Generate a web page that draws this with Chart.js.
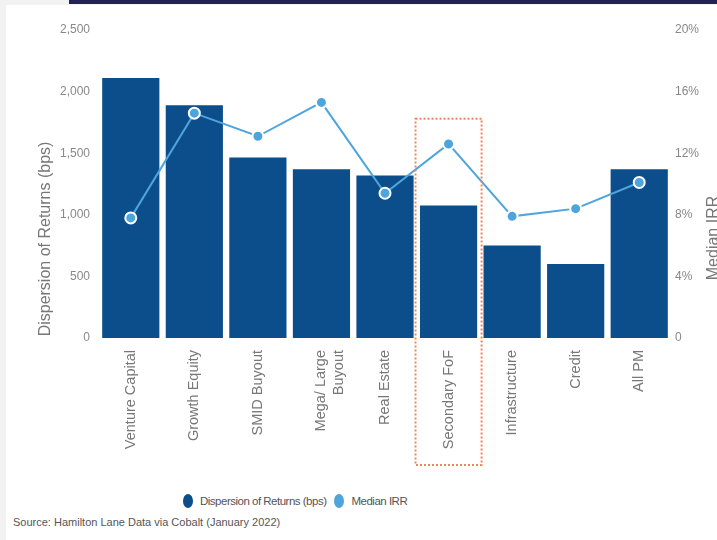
<!DOCTYPE html>
<html>
<head>
<meta charset="utf-8">
<script src="https://cdn.jsdelivr.net/npm/chart.js@4"></script>
<style>
  body { margin: 0; background: #f2f2f2; width: 717px; height: 540px; overflow: hidden; position: relative; }
  #panel { position: absolute; left: 6px; top: 5px; right: 0; bottom: 0; background: #fff; }
  #topbar { position: absolute; left: 69px; top: 0; width: 648px; height: 4px; background: #232257; }
  #subChartCanvas { position: absolute; left: 0; top: 0; }
  #legend { position: absolute; left: 183px; top: 494px; font-family: "Liberation Sans Narrow", "Liberation Sans", sans-serif; font-size: 11.5px; letter-spacing: -0.5px; color: #555; display: flex; align-items: center; }
  #legend .dot { display: inline-block; width: 10px; height: 14px; border-radius: 50%; margin-right: 7px; }
  #legend .item { display: flex; align-items: center; margin-right: 8px; }
  #source { position: absolute; left: 13px; top: 516px; font-family: "Liberation Sans Narrow", "Liberation Sans", sans-serif; font-size: 11px; color: #555; }
</style>
</head>
<body>
<div id="panel"></div>
<div id="topbar"></div>
<canvas id="subChartCanvas" width="717" height="475"></canvas>
<div id="legend">
  <div class="item"><span class="dot" style="background:#0b4e8b"></span>Dispersion of Returns (bps)</div>
  <div class="item"><span class="dot" style="background:#4ea5dc"></span>Median IRR</div>
</div>
<div id="source">Source: Hamilton Lane Data via Cobalt (January 2022)</div>
<script>
const categories = ['Venture Capital', 'Growth Equity', 'SMID Buyout', ['Mega/ Large', 'Buyout'], 'Real Estate', 'Secondary FoF', 'Infrastructure', 'Credit', 'All PM'];
const dispersionBps = [2110, 1890, 1465, 1370, 1320, 1075, 750, 600, 1370];
const medianIrr = [7.8, 14.6, 13.1, 15.3, 9.4, 12.6, 7.9, 8.4, 10.1];
const highlightIndex = 5;

const barColor = '#0b4e8b';
const lineColor = '#4ea5dc';
const tickFont = { family: 'Liberation Sans', size: 12 };

// draws the axis titles and the dotted box round Secondary FoF
const extras = {
    id: 'extras',
    afterDraw(chart) {
        const ctx = chart.ctx;
        const x = chart.scales.x;
        const y = chart.scales.y;
        const area = chart.chartArea;

        ctx.save();
        ctx.fillStyle = '#777';
        ctx.font = '16px "Liberation Sans"';
        ctx.textAlign = 'center';
        ctx.textBaseline = 'middle';
        ctx.translate(46, 239);
        ctx.rotate(-Math.PI / 2);
        ctx.fillText('Dispersion of Returns (bps)', 0, 0);
        ctx.restore();

        ctx.save();
        ctx.fillStyle = '#777';
        ctx.font = '16px "Liberation Sans"';
        ctx.textAlign = 'center';
        ctx.textBaseline = 'middle';
        ctx.translate(714, 238);
        ctx.rotate(-Math.PI / 2);
        ctx.fillText('Median IRR', 0, 0);
        ctx.restore();

        const cx = x.getPixelForValue(highlightIndex);
        const half = (x.getPixelForValue(1) - x.getPixelForValue(0)) * 0.52;
        const top = y.getPixelForValue(1780);
        const bottom = area.bottom + 127;
        ctx.save();
        ctx.strokeStyle = '#f0845c';
        ctx.lineWidth = 2;
        ctx.setLineDash([2, 2]);
        ctx.strokeRect(cx - half, top, half * 2, bottom - top);
        ctx.restore();
    }
};

var ctx_live = document.getElementById('subChartCanvas').getContext('2d');
var subChartVar = new Chart(ctx_live, {
    type: 'bar',
    data: {
        labels: categories,
        datasets: [{
            type: 'line',
            label: 'Median IRR',
            data: medianIrr,
            yAxisID: 'y1',
            borderColor: lineColor,
            borderWidth: 2,
            pointRadius: 5.5,
            pointBackgroundColor: lineColor,
            pointBorderColor: '#fff',
            pointBorderWidth: 2,
            order: 0
        }, {
            type: 'bar',
            label: 'Dispersion of Returns (bps)',
            data: dispersionBps,
            yAxisID: 'y',
            backgroundColor: barColor,
            barPercentage: 0.9,
            categoryPercentage: 1,
            order: 1
        }]
    },
    options: {
        responsive: false,
        animation: false,
        devicePixelRatio: 1,
        layout: { padding: { top: 30, left: 0, right: 0, bottom: 0 } },
        plugins: { legend: { display: false }, tooltip: { enabled: false } },
        scales: {
            x: {
                grid: { display: false, drawTicks: false },
                border: { display: false },
                ticks: {
                    color: '#777',
                    font: { family: 'Liberation Sans', size: 14.5 },
                    minRotation: 90,
                    maxRotation: 90,
                    padding: 12,
                    autoSkip: false
                },
                afterFit: s => { s.height = 137; }
            },
            y: {
                position: 'left',
                min: 0,
                max: 2500,
                grid: { display: false, drawTicks: false },
                border: { display: false },
                ticks: {
                    stepSize: 500,
                    color: '#888',
                    font: tickFont,
                    padding: 9,
                    callback: v => v.toLocaleString('en-US')
                },
                afterFit: s => { s.width = 99; }
            },
            y1: {
                position: 'right',
                min: 0,
                max: 20,
                grid: { display: false, drawTicks: false },
                border: { display: false },
                ticks: {
                    stepSize: 4,
                    color: '#888',
                    font: tickFont,
                    padding: 4,
                    callback: v => v === 0 ? '0' : v + '%'
                },
                afterFit: s => { s.width = 46; }
            }
        }
    },
    plugins: [extras]
});
</script>
</body>
</html>
